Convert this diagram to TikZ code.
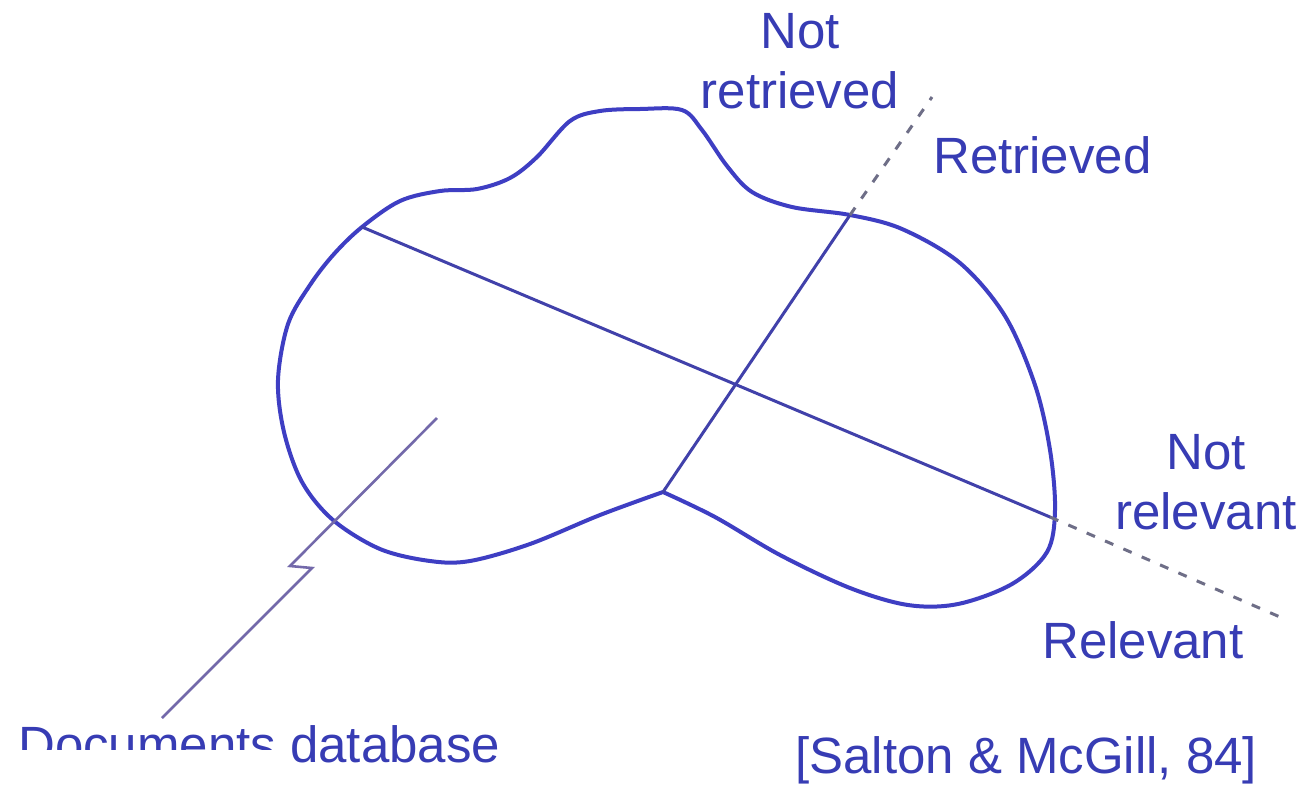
\documentclass[tikz,border=0pt]{standalone}
\usepackage{fontspec}
\setmainfont{Liberation Sans}
\setsansfont{Liberation Sans}
\definecolor{txtblue}{RGB}{55,60,180}
\definecolor{blobblue}{RGB}{62,62,195}
\definecolor{lineblue}{RGB}{65,65,170}
\definecolor{dashgray}{RGB}{110,110,135}
\definecolor{boltcol}{RGB}{115,105,170}
\tikzset{
  lbl/.style={text=txtblue, inner sep=0pt, font=\fontsize{51}{60}\selectfont, align=center},
  blobline/.style={draw=blobblue, line width=4pt, line join=round},
  divline/.style={draw=lineblue, line width=3pt, line cap=round},
  dashline/.style={draw=dashgray, line width=3pt, dash pattern=on 9pt off 11pt},
  boltline/.style={draw=boltcol, line width=2.6pt, line join=miter}
}
\begin{document}
\begin{tikzpicture}[x=1pt,y=-1pt]
\useasboundingbox (0,0) rectangle (1300,785);
\fill[white] (0,0) rectangle (1300,785);
% blob
\coordinate (corner) at (663,492);
\coordinate (relL) at (362,227);
\coordinate (relR) at (1050,517);
\coordinate (retT) at (850,215);
\coordinate (relEnd) at (1280,617);
\coordinate (retEnd) at (932,97);
\draw[blobline] plot[smooth, tension=0.55] coordinates {
 (663,492) (600,515) (530,544) (470,561) (430,561) (380,549) (333,520)
 (302,482) (284,432) (278,380) (288,324) (310,285) (334,254) (362,227)
 (400,201) (440,191) (477,189) (510,178) (537,157) (570,121) (600,111)
 (640,109) (682,110) (702,130) (727,166) (752,192) (792,207) (850,215)
 (902,229) (960,263) (1005,316) (1035,385) (1050,450) (1055,510)
 (1047,552) (1012,584) (958,604) (908,605) (850,588) (780,555) (715,517) (663,492)};
% dividing lines
\draw[divline] (relL) -- (relR);
\draw[divline] (corner) -- (retT);
\draw[dashline] (relR) -- (relEnd);
\draw[dashline] (retT) -- (retEnd);
% lightning pointer
\coordinate (boltA) at (437,418);
\coordinate (boltB) at (290,566);
\coordinate (boltC) at (312,568);
\coordinate (boltD) at (162,718);
\draw[boltline] (boltA) -- (boltB) -- (boltC) -- (boltD);
% labels
\node[lbl, anchor=base] (notret) at (800,108) {Not\\retrieved};
\node[lbl, anchor=base west] (ret) at (933,173) {Retrieved};
\node[lbl, anchor=base] (notrel) at (1206,529) {Not\\relevant};
\node[lbl, anchor=base west] (rel) at (1042,658) {Relevant};
\node[lbl, anchor=base west] (docs) at (18,762) {Documents database};
\fill[white] (0,750) rectangle (287,785);
\node[lbl, anchor=base west] (cite) at (795,773) {[Salton \& McGill, 84]};
\end{tikzpicture}
\end{document}
